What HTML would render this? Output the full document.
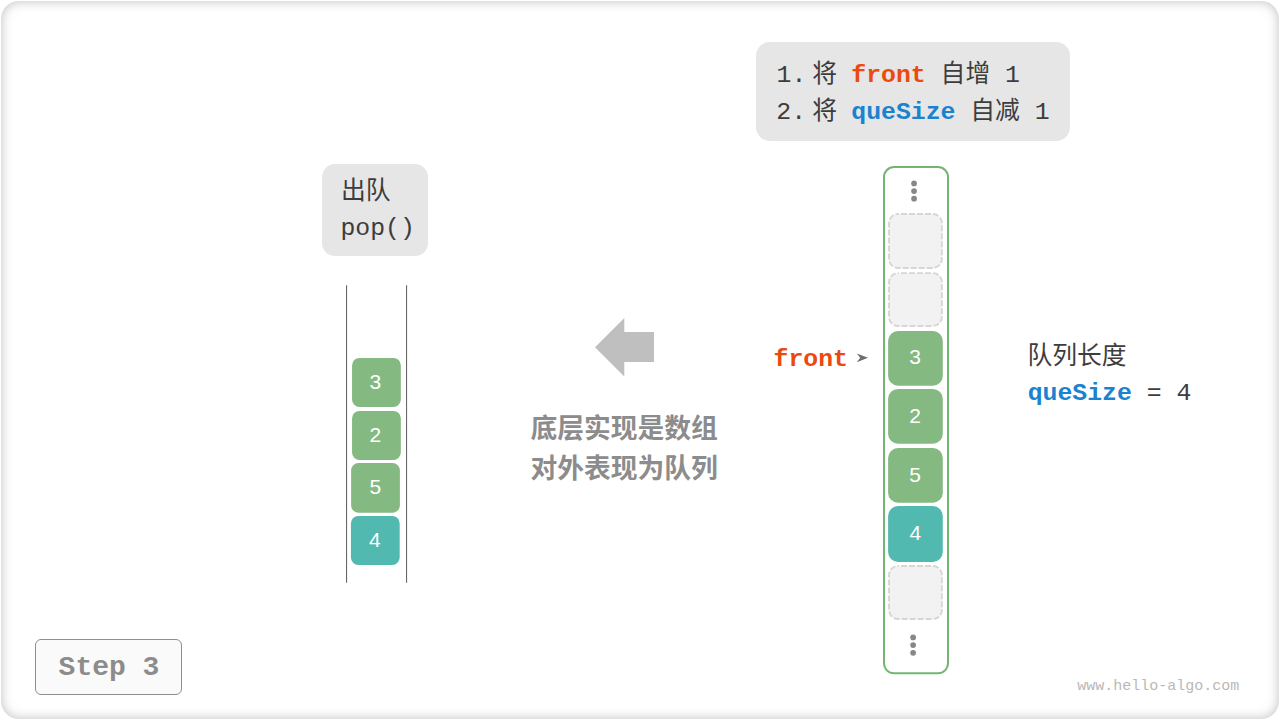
<!DOCTYPE html>
<html lang="zh"><head><meta charset="utf-8"><title>Queue pop - Step 3</title>
<style>
html,body{margin:0;padding:0;background:#fff;}
body{width:1280px;height:720px;position:relative;overflow:hidden;font-family:"Liberation Mono",monospace;}
#frame{position:absolute;left:1px;top:1px;width:1277.7px;height:717.5px;border-radius:18px;background:#fff;box-shadow:inset 0 0 12px rgba(0,0,0,0.25);}
svg{position:absolute;left:0;top:0;}
svg text{white-space:pre;}
.m{font-family:"Liberation Mono","Noto Sans CJK SC",monospace;font-size:24.8px;}
.n{font-family:"Liberation Sans","Noto Sans CJK SC",sans-serif;font-size:21px;fill:#fff;text-anchor:middle;}
.b{font-family:"Liberation Sans","Noto Sans CJK SC",sans-serif;font-size:26.75px;font-weight:bold;fill:#8c8c8c;}
</style></head><body>
<div id="frame"></div>
<svg width="1280" height="720" viewBox="0 0 1280 720">
<rect x="756" y="42" width="314" height="99" rx="14" fill="#e6e6e6"/>
<text class="m" x="776.5" y="82" fill="#3d3d3d">1.</text>
<text class="m" x="812.2" y="82" fill="#3d3d3d">将</text>
<text class="m" x="851.3" y="82" fill="#ec4a0c" font-weight="bold">front</text>
<text class="m" x="940.6" y="82" fill="#3d3d3d">自增</text>
<text class="m" x="1005.1" y="82" fill="#3d3d3d">1</text>
<text class="m" x="776.3" y="118.85" fill="#3d3d3d">2.</text>
<text class="m" x="812.2" y="118.85" fill="#3d3d3d">将</text>
<text class="m" x="851.3" y="118.85" fill="#1a82cf" font-weight="bold">queSize</text>
<text class="m" x="970.3" y="118.85" fill="#3d3d3d">自减</text>
<text class="m" x="1034.8" y="118.85" fill="#3d3d3d">1</text>
<rect x="322" y="164.1" width="106" height="91.9" rx="13" fill="#e6e6e6"/>
<text class="m" x="340.9" y="199" fill="#3d3d3d">出队</text>
<text class="m" x="340.4" y="235.2" fill="#3d3d3d">pop()</text>
<path d="M346.56 285.2V582.8M406.56 285.2V582.8" stroke="#636363" stroke-width="1.05" fill="none"/>
<rect x="352.05" y="357.9" width="48.8" height="49.0" rx="7.5" fill="#85b982"/>
<text class="n" x="375.4" y="388.95">3</text>
<rect x="352.05" y="410.9" width="48.8" height="49.0" rx="7.5" fill="#85b982"/>
<text class="n" x="375.4" y="442">2</text>
<rect x="351.1" y="463.0" width="48.8" height="49.8" rx="7.5" fill="#85b982"/>
<text class="n" x="375.3" y="494.1">5</text>
<rect x="350.9" y="515.9" width="48.8" height="49.0" rx="7.5" fill="#52b9b0"/>
<text class="n" x="374.9" y="547">4</text>
<path fill="#bfbfbf" d="M595 347.2L624.3 317.9V332H654V362H624.3V376.5Z"/>
<text class="b" x="530.4" y="437.5">底层实现是数组</text>
<text class="b" x="530.4" y="477.6">对外表现为队列</text>
<text class="m" x="773.6" y="366" fill="#ec4a0c" font-weight="bold">front</text>
<path fill="#6e6e6e" d="M856.8 353.6L868 357.85L856.8 362.3L860.2 357.85Z"/>
<rect x="884" y="167" width="64" height="506.3" rx="10" fill="#fff" stroke="#74b573" stroke-width="2"/>
<circle cx="914.05" cy="183.4" r="2.85" fill="#878787"/>
<circle cx="914.05" cy="191.05" r="2.85" fill="#878787"/>
<circle cx="914.05" cy="198.65" r="2.85" fill="#878787"/>
<circle cx="913.1" cy="637.4" r="2.85" fill="#878787"/>
<circle cx="913.1" cy="645.1" r="2.85" fill="#878787"/>
<circle cx="913.1" cy="652.8" r="2.85" fill="#878787"/>
<rect x="889.05" y="214.05" width="52.8" height="53.90" rx="9" fill="#f2f2f2" stroke="#d6d6d6" stroke-width="1.9" stroke-dasharray="6 2" stroke-dashoffset="5"/>
<rect x="889.05" y="273.15" width="52.8" height="52.80" rx="9" fill="#f2f2f2" stroke="#d6d6d6" stroke-width="1.9" stroke-dasharray="6 2" stroke-dashoffset="5"/>
<rect x="888.1" y="331.1" width="54.7" height="54.7" rx="10" fill="#85b982"/>
<text class="n" x="915" y="363.9">3</text>
<rect x="888.1" y="388.9" width="54.7" height="54.85" rx="10" fill="#85b982"/>
<text class="n" x="915" y="423">2</text>
<rect x="888.1" y="448.0" width="54.7" height="54.8" rx="10" fill="#85b982"/>
<text class="n" x="915" y="481.7">5</text>
<rect x="888.1" y="506.1" width="54.7" height="55.8" rx="10" fill="#52b9b0"/>
<text class="n" x="915.3" y="540">4</text>
<rect x="889.05" y="566.05" width="52.8" height="52.90" rx="9" fill="#f2f2f2" stroke="#d6d6d6" stroke-width="1.9" stroke-dasharray="6 2" stroke-dashoffset="5"/>
<text class="m" x="1027.4" y="364" fill="#3d3d3d">队列长度</text>
<text class="m" x="1027.7" y="400" fill="#1a82cf" font-weight="bold">queSize</text>
<text class="m" x="1146.7" y="400" fill="#3d3d3d">=</text>
<text class="m" x="1176.4" y="400" fill="#3d3d3d">4</text>
<rect x="35.5" y="639.5" width="146" height="55" rx="5.5" fill="#fafafa" stroke="#8f8f8f" stroke-width="1"/>
<text x="58.6" y="675" font-family="'Liberation Mono',monospace" font-size="28" font-weight="bold" fill="#8c8c8c">Step 3</text>
<text x="1077.3" y="689.5" font-family="'Liberation Mono',monospace" font-size="15" fill="#b9b9b9">www.hello-algo.com</text>
</svg>
</body></html>
